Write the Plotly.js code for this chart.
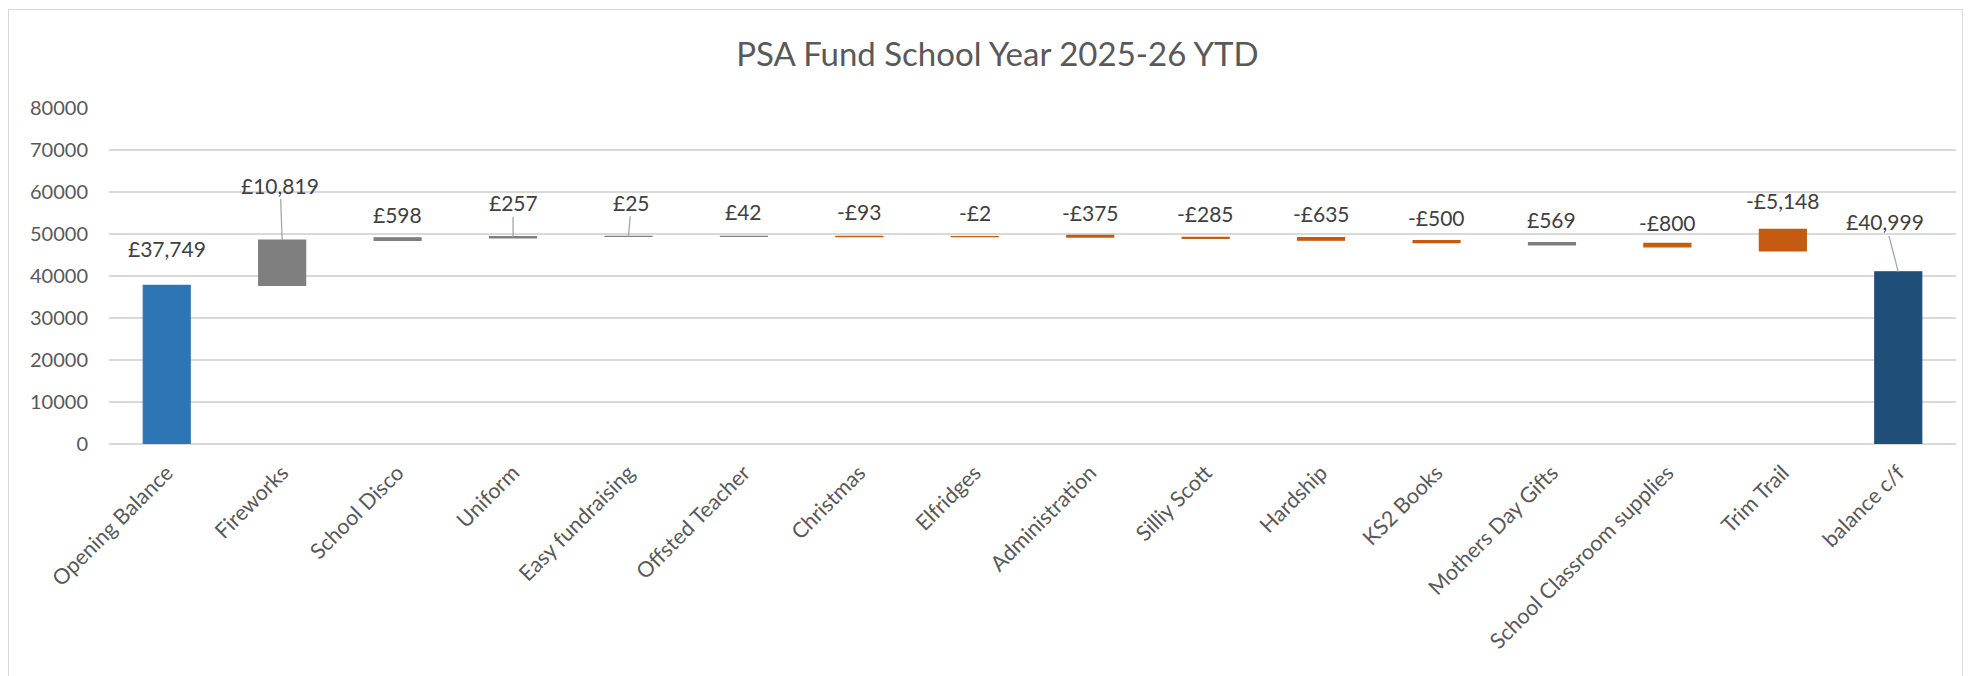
<!DOCTYPE html>
<html>
<head>
<meta charset="utf-8">
<script src="https://cdn.plot.ly/plotly-3.0.1.min.js"></script>
<style>
  html, body { margin: 0; padding: 0; background: #ffffff; overflow: hidden; }
  #chart { width: 1970px; height: 676px; }
  #frame { position: absolute; left: 8px; top: 9px; width: 1955px; height: 720px;
           border: 1.5px solid #D9D9D9; pointer-events: none; box-sizing: border-box; }
</style>
</head>
<body>
<div id="chart"></div>
<div id="frame"></div>
<script>
// ---- data ----
const categories = ["Opening Balance", "Fireworks", "School Disco", "Uniform", "Easy fundraising",
  "Offsted Teacher", "Christmas", "Elfridges", "Administration", "Silliy Scott", "Hardship",
  "KS2 Books", "Mothers Day Gifts", "School Classroom supplies", "Trim Trail", "balance c/f"];
// signed change (or total) shown in each label
const amounts = [37749, 10819, 598, 257, 25, 42, -93, -2, -375, -285, -635, -500, 569, -800, -5148, 40999];
// level at which each bar starts, as drawn in the picture
const startLevel = [0, 37749, 48500, 49100, 49400, 49425, 49467, 49374, 49650, 49210, 49150, 48450, 47400, 47750, 51120, 0];
// kind of bar: opening, increase, decrease, total
const kinds = ["open", "up", "up", "up", "up", "up", "down", "down", "down", "down", "down", "down", "up", "down", "down", "total"];

// ---- styles ----
const kindColor = { open: "#2E75B6", up: "#7F7F7F", down: "#C55A11", total: "#1F4E79" };
const labelLift = [-37, -55, -23, -34, -34, -25, -25, -24, -23, -24, -24, -23, -23, -21, -29, -50];
const labelShiftX = [0, -2, 0, 0, 3, 0, 0, 0, 0, 0, 0, 0, 0, 0, 0, -13];
const leader = [false, true, false, true, true, false, false, false, false, false, false, false, false, false, false, true];

const FONT = "Lato, 'Open Sans', sans-serif";

function money(v) {
  return (v < 0 ? "-" : "") + "£" + Math.abs(v).toLocaleString("en-GB");
}

const barColors = kinds.map(k => kindColor[k]);

const trace = {
  type: "bar",
  x: categories,
  y: amounts,
  base: startLevel,
  marker: { color: barColors, line: { width: 1.2, color: barColors } },
  hoverinfo: "skip",
  showlegend: false
};

const annotations = categories.map((c, i) => {
  const top = Math.max(startLevel[i], startLevel[i] + amounts[i]);
  return {
    x: c, y: top, xref: "x", yref: "y",
    text: money(amounts[i]),
    showarrow: true,
    arrowhead: 0, arrowwidth: 1.3, standoff: 0, startstandoff: 0,
    arrowcolor: leader[i] ? "#A6A6A6" : "rgba(0,0,0,0)",
    ax: labelShiftX[i], ay: labelLift[i],
    font: { family: FONT, size: 21, color: "#404040" }
  };
});

const layout = {
  width: 1970, height: 676,
  paper_bgcolor: "#ffffff", plot_bgcolor: "#ffffff",
  margin: { l: 109, r: 14, t: 108, b: 232 },
  title: {
    text: "PSA Fund School Year 2025-26 YTD",
    font: { family: FONT, size: 33, color: "#595959" },
    x: 0.5063, xref: "container", xanchor: "center",
    y: 0.919, yref: "container", yanchor: "middle"
  },
  bargap: 0.593,
  xaxis: {
    type: "category",
    tickangle: -45,
    tickfont: { family: FONT, size: 21.5, color: "#595959" },
    showgrid: false, showline: false, zeroline: false, ticks: "",
    ticklabelstandoff: 11
  },
  yaxis: {
    range: [0, 80000],
    dtick: 10000,
    tickformat: "d",
    tickfont: { family: FONT, size: 20, color: "#595959" },
    showgrid: true, gridcolor: "#D9D9D9", gridwidth: 1.5,
    zeroline: true, zerolinecolor: "#D9D9D9", zerolinewidth: 1.5,
    showline: false, ticks: "",
    ticklabelstandoff: 20
  },
  annotations: annotations
};

Plotly.newPlot("chart", [trace], layout, { displayModeBar: false, staticPlot: true });
</script>
</body>
</html>
